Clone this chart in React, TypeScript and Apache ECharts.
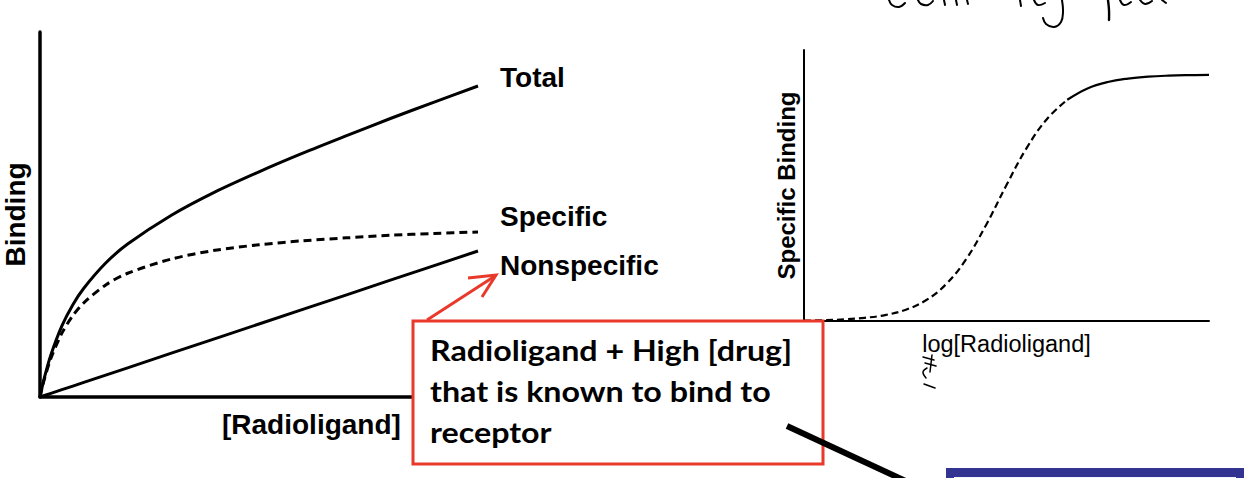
import React, { useEffect, useRef } from "react";
import * as echarts from "echarts";

// Left chart: saturation binding vs [Radioligand]
const leftX = [0, 0.1, 0.25, 0.5, 0.75, 1, 1.5, 2, 3, 4, 5, 6, 7, 8, 9, 10];
const totalBinding = [0, 0.53, 1.16, 1.95, 2.53, 2.98, 3.67, 4.19, 4.98, 5.62, 6.17, 6.68, 7.16, 7.63, 8.08, 8.52];
const specificBinding = [0, 0.49, 1.06, 1.75, 2.23, 2.58, 3.07, 3.39, 3.78, 4.02, 4.17, 4.28, 4.36, 4.43, 4.48, 4.52];
const nonspecificBinding = [0, 0.04, 0.1, 0.2, 0.3, 0.4, 0.6, 0.8, 1.2, 1.6, 2.0, 2.4, 2.8, 3.2, 3.6, 4.0];
const leftSeriesNames = ["Total", "Specific", "Nonspecific"];

// Right chart: specific binding vs log[Radioligand]
const logXDashed = [0, 0.5, 1, 1.5, 2, 2.5, 3, 3.5, 4, 4.5, 5, 5.5, 6, 6.5];
const sigmoidDashed = [0.002, 0.003, 0.007, 0.013, 0.024, 0.045, 0.083, 0.148, 0.25, 0.391, 0.552, 0.703, 0.82, 0.898];
const logXSolid = [6.5, 7, 7.5, 8, 8.5, 9, 9.5, 10];
const sigmoidSolid = [0.898, 0.944, 0.97, 0.984, 0.992, 0.996, 0.998, 0.999];

const boxText = "Radioligand + High [drug]\nthat is known to bind to\nreceptor";

const SANS = "'Liberation Sans', Arial, sans-serif";
const RED = "#e8392b";

function pairs(xs: number[], ys: number[]) {
  return xs.map((x, i) => [x, ys[i]]);
}

const stroke = (points: number[][], w = 2) => ({
  type: "polyline",
  z: 5,
  shape: { points, smooth: 0.4 },
  style: { stroke: "#000", lineWidth: w, fill: "none", lineCap: "round" },
});

export default function App() {
  const ref = useRef<HTMLDivElement>(null);
  useEffect(() => {
    if (!ref.current) return;
    const chart = echarts.init(ref.current, null, { renderer: "svg" });
    const labelStyle = (text: string, dy: number) => ({
      show: true,
      formatter: text,
      color: "#000",
      fontFamily: SANS,
      fontWeight: "bold",
      fontSize: 28,
      distance: 0,
      offset: [22, dy],
      align: "left",
      verticalAlign: "middle",
    });
    const hiddenAxis = {
      axisTick: { show: false },
      axisLabel: { show: false },
      splitLine: { show: false },
    };
    chart.setOption({
      animation: false,
      backgroundColor: "#fff",
      grid: [
        { left: 40, top: 32, width: 438, height: 365, outerBoundsMode: "none", containLabel: false },
        { left: 804, top: 50, width: 405, height: 271, outerBoundsMode: "none", containLabel: false },
      ],
      xAxis: [
        {
          gridIndex: 0, type: "value", min: 0, max: 10, ...hiddenAxis,
          axisLine: { show: true, lineStyle: { color: "#000", width: 3.5 } },
        },
        {
          gridIndex: 1, type: "value", min: 0, max: 10, ...hiddenAxis,
          axisLine: { show: true, lineStyle: { color: "#000", width: 2 } },
          name: "log[Radioligand]", nameLocation: "middle", nameGap: 11,
          nameTextStyle: { color: "#000", fontFamily: SANS, fontSize: 23.5 },
        },
      ],
      yAxis: [
        {
          gridIndex: 0, type: "value", min: 0, max: 10, ...hiddenAxis,
          axisLine: { show: true, lineStyle: { color: "#000", width: 3.5 } },
          name: "Binding", nameLocation: "middle", nameGap: 11,
          nameTextStyle: { color: "#000", fontFamily: SANS, fontSize: 28, fontWeight: "bold" },
        },
        {
          gridIndex: 1, type: "value", min: 0, max: 1.1, ...hiddenAxis,
          axisLine: { show: true, lineStyle: { color: "#000", width: 2 } },
          name: "Specific Binding", nameLocation: "middle", nameGap: 6,
          nameTextStyle: { color: "#000", fontFamily: SANS, fontSize: 24, fontWeight: "bold" },
        },
      ],
      series: [
        {
          name: leftSeriesNames[0], type: "line", xAxisIndex: 0, yAxisIndex: 0,
          data: pairs(leftX, totalBinding), smooth: 0.3, showSymbol: false,
          lineStyle: { color: "#000", width: 3 },
          endLabel: labelStyle(leftSeriesNames[0], -9),
        },
        {
          name: leftSeriesNames[1], type: "line", xAxisIndex: 0, yAxisIndex: 0,
          data: pairs(leftX, specificBinding), smooth: 0.3, showSymbol: false,
          lineStyle: { color: "#000", width: 3, type: [8, 5] },
          endLabel: labelStyle(leftSeriesNames[1], -16),
        },
        {
          name: leftSeriesNames[2], type: "line", xAxisIndex: 0, yAxisIndex: 0,
          data: pairs(leftX, nonspecificBinding), showSymbol: false,
          lineStyle: { color: "#000", width: 3 },
          endLabel: labelStyle(leftSeriesNames[2], 14),
        },
        {
          name: "Specific (log)", type: "line", xAxisIndex: 1, yAxisIndex: 1,
          data: pairs(logXDashed, sigmoidDashed), smooth: 0.4, showSymbol: false,
          lineStyle: { color: "#000", width: 2.2, type: [7, 4] },
        },
        {
          name: "Specific plateau", type: "line", xAxisIndex: 1, yAxisIndex: 1,
          data: pairs(logXSolid, sigmoidSolid), smooth: 0.4, showSymbol: false,
          lineStyle: { color: "#000", width: 2.2 },
        },
      ],
      graphic: [
        {
          type: "text", left: 222, top: 410, z: 10,
          style: { text: "[Radioligand]", fill: "#000", font: `bold 28px ${SANS}` },
        },
        {
          type: "rect", z: 20,
          shape: { x: 413, y: 321, width: 410, height: 143 },
          style: { fill: "#fff", stroke: RED, lineWidth: 3 },
        },
        {
          type: "text", x: 430, y: 329, z: 21, scaleX: 1.15,
          style: {
            text: boxText, fill: "#000", font: "bold 28px Lato, 'Open Sans', sans-serif",
            lineHeight: 41, verticalAlign: "top",
          },
        },
        {
          type: "line", z: 21,
          shape: { x1: 427, y1: 320, x2: 495, y2: 276 },
          style: { stroke: RED, lineWidth: 3 },
        },
        {
          type: "polyline", z: 21,
          shape: { points: [[468, 278], [496, 275], [482, 297]] },
          style: { stroke: RED, lineWidth: 3, fill: "none" },
        },
        {
          type: "line", z: 22,
          shape: { x1: 787, y1: 426, x2: 925, y2: 490 },
          style: { stroke: "#000", lineWidth: 6 },
        },
        {
          type: "rect", z: 22,
          shape: { x: 946, y: 468, width: 310, height: 20 },
          style: { fill: "#333392" },
        },
        {
          type: "rect", z: 23,
          shape: { x: 954, y: 477, width: 282, height: 20 },
          style: { fill: "#f4f4fa" },
        },
        // cropped handwritten note strokes at the top edge
        stroke([[889, 0], [892, 5], [899, 7], [905, 3]]),
        stroke([[918, 0], [921, 4], [928, 5], [933, 1]]),
        stroke([[944, 0], [945, 5]]),
        stroke([[956, 0], [957, 5]]),
        stroke([[967, 0], [968, 4]]),
        stroke([[1020, 0], [1021, 6]]),
        stroke([[1034, 0], [1038, 5], [1045, 3]]),
        stroke([[1062, 0], [1063, 12], [1061, 22], [1054, 27], [1046, 24], [1043, 18]]),
        stroke([[1108, 0], [1109, 10], [1109, 20]], 2.4),
        stroke([[1120, 0], [1124, 5], [1131, 2]]),
        stroke([[1140, 0], [1145, 4], [1152, 1]]),
        stroke([[1162, 0], [1166, 3]]),
        // small handwritten marks below the log axis title
        stroke([[923, 357], [934, 360]], 1.5),
        stroke([[925, 363], [936, 366]], 1.5),
        stroke([[932, 355], [930, 372]], 1.5),
        stroke([[926, 378], [923, 372], [927, 368]], 1.5),
        stroke([[924, 384], [935, 388]], 1.5),
      ],
    });
    return () => chart.dispose();
  }, []);
  return (
    <div
      ref={ref}
      style={{ position: "absolute", left: 0, top: 0, width: 1244, height: 478 }}
    />
  );
}
